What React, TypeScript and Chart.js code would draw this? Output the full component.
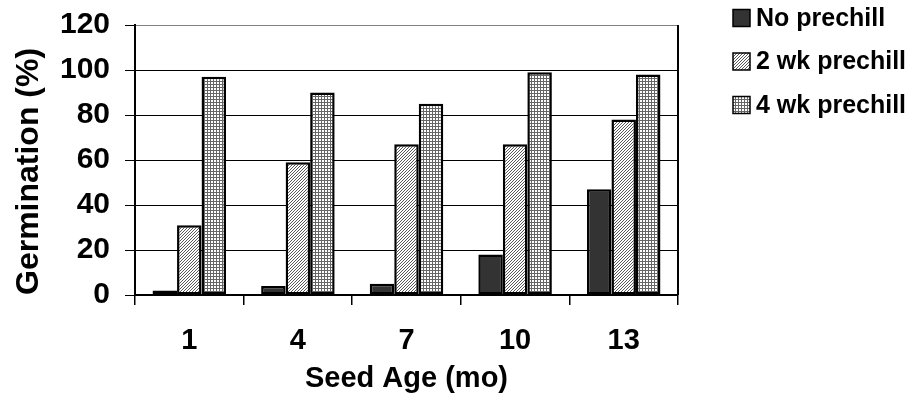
import React, { useEffect, useRef } from 'react';
import { Chart, registerables } from 'chart.js';

Chart.register(...registerables);

// Seed age groups (months) and germination (%) per prechill treatment
const seedAges = ['1', '4', '7', '10', '13'];
const noPrechill = [2, 4, 5, 18, 47];
const twoWeekPrechill = [31, 59, 67, 67, 78];
const fourWeekPrechill = [97, 90, 85, 99, 98];
const seriesNames = ['No prechill', '2 wk prechill', '4 wk prechill'];

const yMin = 0;
const yMax = 120;
const yStep = 20;

const FONT = '"Liberation Sans", Arial, Helvetica, sans-serif';

function makePattern(
  size: number,
  isDark: (x: number, y: number) => boolean,
  dark: string,
  light = '#ffffff'
): CanvasPattern | string {
  const c = document.createElement('canvas');
  c.width = size;
  c.height = size;
  const g = c.getContext('2d');
  if (!g) return dark;
  g.fillStyle = light;
  g.fillRect(0, 0, size, size);
  g.fillStyle = dark;
  for (let y = 0; y < size; y++) {
    for (let x = 0; x < size; x++) {
      if (isDark(x, y)) g.fillRect(x, y, 1, 1);
    }
  }
  return g.createPattern(c, 'repeat') || dark;
}

// Legend drawn to the right of the plot: square swatch + bold label
const sideLegend = {
  id: 'sideLegend',
  afterDraw(chart: any) {
    const { ctx } = chart;
    const firstRow = 18;
    const rowGap = 43.5;
    const boxX = 733;
    const box = 17;
    ctx.save();
    chart.data.datasets.forEach((ds: any, i: number) => {
      const cy = firstRow + i * rowGap;
      ctx.fillStyle = ds.backgroundColor;
      ctx.fillRect(boxX, cy - box / 2, box, box);
      ctx.lineWidth = 1.5;
      ctx.strokeStyle = '#000';
      ctx.strokeRect(boxX, cy - box / 2, box, box);
      ctx.fillStyle = '#000';
      ctx.font = `bold 25px ${FONT}`;
      ctx.textAlign = 'left';
      ctx.textBaseline = 'middle';
      ctx.fillText(ds.label, boxX + box + 6, cy + 1);
    });
    ctx.restore();
  },
};

// Right-hand edge of the plot frame
const plotFrame = {
  id: 'plotFrame',
  afterDatasetsDraw(chart: any) {
    const { ctx, chartArea } = chart;
    ctx.save();
    ctx.strokeStyle = '#000';
    ctx.lineWidth = 2;
    ctx.beginPath();
    ctx.moveTo(chartArea.right, chartArea.top);
    ctx.lineTo(chartArea.right, chartArea.bottom);
    ctx.stroke();
    ctx.restore();
  },
};

export default function App() {
  const canvasRef = useRef<HTMLCanvasElement | null>(null);

  useEffect(() => {
    document.body.style.margin = '0';
    const canvas = canvasRef.current;
    if (!canvas) return;

    const solidDark = '#333333';
    const hatch = makePattern(3, (x, y) => (x + y) % 3 === 0, '#5a5a5a');
    const mesh = makePattern(3, (x, y) => x % 3 === 0 || y % 3 === 0, '#666666');

    const chart = new Chart(canvas, {
      type: 'bar',
      data: {
        labels: seedAges,
        datasets: [
          { label: seriesNames[0], data: noPrechill, backgroundColor: solidDark },
          { label: seriesNames[1], data: twoWeekPrechill, backgroundColor: hatch as any },
          { label: seriesNames[2], data: fourWeekPrechill, backgroundColor: mesh as any },
        ].map((d) => ({
          ...d,
          borderColor: '#000',
          borderWidth: 2.5,
          borderSkipped: false,
          categoryPercentage: 0.677,
          barPercentage: 1,
        })),
      },
      options: {
        responsive: false,
        animation: false,
        events: [],
        layout: { padding: { top: 25, right: 236, left: 0, bottom: 0 } },
        plugins: {
          legend: { display: false },
          tooltip: { enabled: false },
        },
        scales: {
          x: {
            grid: {
              display: true,
              drawOnChartArea: false,
              drawTicks: true,
              tickLength: 10,
              color: '#000',
              lineWidth: 1.5,
            },
            border: { display: true, color: '#000', width: 2 },
            ticks: {
              color: '#000',
              font: { family: FONT, size: 29, weight: 'bold' },
              padding: 19,
              maxRotation: 0,
            },
            title: {
              display: true,
              text: 'Seed Age (mo)',
              color: '#000',
              font: { family: FONT, size: 29, weight: 'bold' },
              padding: { top: 0, bottom: 17 },
            },
            afterFit(scale: any) {
              scale.height = 118;
            },
          },
          y: {
            min: yMin,
            max: yMax,
            ticks: {
              stepSize: yStep,
              color: '#000',
              font: { family: FONT, size: 30, weight: 'bold' },
              padding: 15,
            },
            grid: {
              drawTicks: true,
              tickLength: 10,
              color: (c: any) => (c.tick && c.tick.value === yMax ? '#808080' : '#000'),
              tickColor: '#000',
              lineWidth: 1,
            },
            border: { display: true, color: '#000', width: 2 },
            title: {
              display: true,
              text: 'Germination (%)',
              align: 'start',
              color: '#000',
              font: { family: FONT, size: 32, weight: 'bold' },
              padding: { top: 10, bottom: 0 },
            },
            afterFit(scale: any) {
              scale.width = 135;
              scale.paddingTop = 0;
              scale.paddingBottom = 0;
            },
          },
        },
      },
      plugins: [plotFrame, sideLegend],
    });

    return () => chart.destroy();
  }, []);

  return (
    <div style={{ width: 914, height: 413 }}>
      <canvas ref={canvasRef} width={914} height={413} style={{ display: 'block' }} />
    </div>
  );
}
